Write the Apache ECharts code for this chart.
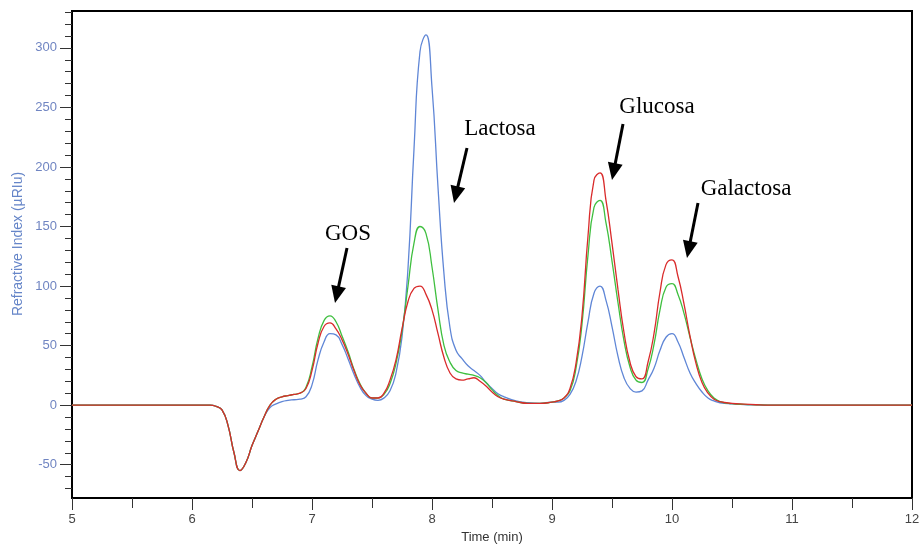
<!DOCTYPE html>
<html>
<head>
<meta charset="utf-8">
<script src="https://cdn.jsdelivr.net/npm/echarts@6/dist/echarts.min.js"></script>
<style>
html,body{margin:0;padding:0;background:#fff;}
#chart{width:919px;height:546px;}
</style>
</head>
<body>
<div id="chart"></div>
<script>
// time axis (min)
var times = [5.0, 6.0, 6.15, 6.2, 6.25, 6.3, 6.35, 6.4, 6.45, 6.5, 6.55, 6.6,
	6.65, 6.7, 6.75, 6.8, 6.85, 6.9, 6.95, 7.0, 7.05, 7.1, 7.15, 7.2, 7.25, 7.3, 7.35, 7.4, 7.45, 7.5, 7.55, 7.6,
	7.65, 7.7, 7.75, 7.8, 7.85, 7.9, 7.95, 8.0, 8.05, 8.1, 8.15, 8.2, 8.25, 8.3, 8.35, 8.4, 8.45, 8.5, 8.55, 8.6,
	8.7, 8.8, 8.9, 9.0,
	9.05, 9.1, 9.15, 9.2, 9.25, 9.3, 9.35, 9.4, 9.45, 9.5, 9.55, 9.6, 9.65, 9.7, 9.75,
	9.8, 9.85, 9.9, 9.95, 10.0, 10.05, 10.1, 10.15, 10.2, 10.25, 10.3, 10.35, 10.4, 10.5, 10.6, 10.7, 10.8, 11.0, 12.0];

// refractive index signal (uRIU)
var blueRI = [0, 0, 0, -1, -4, -17, -40, -55, -48, -34, -22, -10,
	-2, 1, 3, 4, 4.5, 5, 7, 17, 38, 53, 60, 59, 51, 39, 26, 15, 8, 5, 4, 6,
	12, 27, 57, 115, 215, 297, 311, 267, 183, 110, 65, 46, 39, 33, 29, 25, 19, 14, 9.5, 7,
	3.5, 2, 1.5, 2.5,
	2.5, 4, 9, 20, 41, 70, 94, 100, 88, 66, 41, 23, 14, 11, 12,
	21, 31, 46, 57, 60, 53, 40, 27, 18, 11, 6, 3.5, 2, 1, 0.5, 0.2, 0, 0, 0];
var greenRI = [0, 0, 0, -1, -4, -17, -40, -55, -48, -34, -22, -10,
	0, 5, 7, 8, 9, 10, 15, 32, 56, 71, 75, 70, 58, 45, 30, 18, 10, 6, 6, 9,
	18, 35, 62, 100, 136, 150, 144, 116, 80, 50, 36, 29, 27, 26, 25, 23, 19, 13, 8, 5,
	3, 1.5, 1.5, 2.5,
	3.5, 6, 12, 31, 68, 126, 166, 172, 153, 121, 86, 54, 32, 21, 19,
	30, 51, 80, 99, 102, 93, 77, 57, 38, 22, 12, 6, 3, 1.2, 0.6, 0.3, 0, 0, 0];
var redRI = [0, 0, 0, -1, -4, -17, -40, -55, -48, -34, -22, -10,
	0, 5, 7, 8, 9, 10, 14, 29, 52, 66, 69, 64, 55, 43, 29, 17, 10, 6, 6, 10,
	21, 38, 64, 87, 98, 100, 93, 80, 60, 40, 27, 22, 21, 22, 23, 20, 16, 11, 7, 5,
	3, 1.5, 1.5, 2.5,
	3.5, 6, 14, 35, 75, 142, 189, 195, 172, 136, 97, 61, 36, 24, 22,
	36, 60, 95, 118, 122, 108, 85, 58, 35, 19, 10, 5, 3, 1.5, 0.8, 0.3, 0, 0, 0];

var yTicks = [-50, 0, 50, 100, 150, 200, 250, 300];
var yMinorTicks = [-70, -60, -40, -30, -20, -10, 10, 20, 30, 40, 60, 70, 80, 90, 110, 120, 130, 140,
	160, 170, 180, 190, 210, 220, 230, 240, 260, 270, 280, 290, 310, 320, 330];

var labelFont = 'Liberation Sans, Arial, sans-serif';

function pairs(ys){
	var out = [];
	for (var i = 0; i < times.length; i++) {
		out.push([times[i], ys[i]]);
	}
	return out;
}

// arrow: shaft + triangular head, pixel coords
function arrow(x1, y1, x2, y2){
	var dx = x2 - x1, dy = y2 - y1;
	var len = Math.sqrt(dx * dx + dy * dy);
	var ux = dx / len, uy = dy / len;
	var hl = 17, hw = 7.5;
	var bx = x2 - ux * hl, by = y2 - uy * hl;
	return [
		{type: 'line', shape: {x1: x1, y1: y1, x2: bx + ux * 2, y2: by + uy * 2}, style: {stroke: '#000', lineWidth: 3}},
		{type: 'polygon', shape: {points: [[x2, y2], [bx - uy * hw, by + ux * hw], [bx + uy * hw, by - ux * hw]]}, style: {fill: '#000'}}
	];
}

function label(text, x, y){
	return {
		type: 'text', x: x, y: y,
		style: {text: text, fill: '#000', font: '23px "Liberation Serif", "Times New Roman", serif', align: 'center', verticalAlign: 'middle'}
	};
}

var graphics = [
	{
		type: 'text', x: 18, y: 244, rotation: Math.PI / 2,
		style: {text: 'Refractive Index (µRIu)', fill: '#6585c8', font: '14px ' + labelFont, align: 'center', verticalAlign: 'middle'}
	},
	label('GOS', 348, 234),
	label('Lactosa', 500, 129),
	label('Glucosa', 657, 107),
	label('Galactosa', 746, 189)
]
	.concat(arrow(347, 248, 335, 303))
	.concat(arrow(467, 148, 454, 203))
	.concat(arrow(623, 124, 612, 180))
	.concat(arrow(698, 203, 687, 258));

var chartObj = echarts.init(document.getElementById('chart'));
var option = {
	backgroundColor: '#fff',
	animation: false,
	grid: {
		left: 72, right: 7, top: 11, bottom: 48,
		outerBoundsMode: 'none',
		show: true, borderColor: '#000', borderWidth: 2
	},
	xAxis: {
		type: 'value',
		min: 5, max: 12, interval: 1,
		name: 'Time (min)',
		nameLocation: 'middle',
		nameGap: 32,
		nameTextStyle: {color: '#333', fontSize: 13, fontFamily: labelFont},
		axisLine: {onZero: false, lineStyle: {color: '#000', width: 2}},
		axisTick: {length: 12, lineStyle: {color: '#333'}},
		minorTick: {show: true, splitNumber: 2, length: 10, lineStyle: {color: '#333'}},
		axisLabel: {color: '#444', fontSize: 13, fontFamily: labelFont, margin: 15},
		splitLine: {show: false}
	},
	yAxis: [
		{
			type: 'value',
			min: -78, max: 331,
			axisLine: {show: true, onZero: false, lineStyle: {color: '#000', width: 2}},
			axisTick: {show: true, length: 12, customValues: yTicks, lineStyle: {color: '#333'}},
			axisLabel: {customValues: yTicks, color: '#7085c2', fontSize: 13, fontFamily: labelFont, margin: 15},
			splitLine: {show: false}
		},
		{
			type: 'value',
			min: -78, max: 331,
			position: 'left',
			axisLine: {show: false, onZero: false},
			axisTick: {show: true, length: 7, customValues: yMinorTicks, lineStyle: {color: '#333'}},
			axisLabel: {show: false},
			splitLine: {show: false}
		}
	],
	series: [
		{name: 'blue', type: 'line', data: pairs(blueRI), smooth: 0.5, symbol: 'none',
			lineStyle: {color: '#5f86d6', width: 1.3}},
		{name: 'green', type: 'line', data: pairs(greenRI), smooth: 0.5, symbol: 'none',
			lineStyle: {color: '#3fbf3f', width: 1.3}},
		{name: 'red', type: 'line', data: pairs(redRI), smooth: 0.5, symbol: 'none',
			lineStyle: {color: '#d92b2b', width: 1.3}}
	],
	graphic: graphics
};
chartObj.setOption(option);
</script>
</body>
</html>
